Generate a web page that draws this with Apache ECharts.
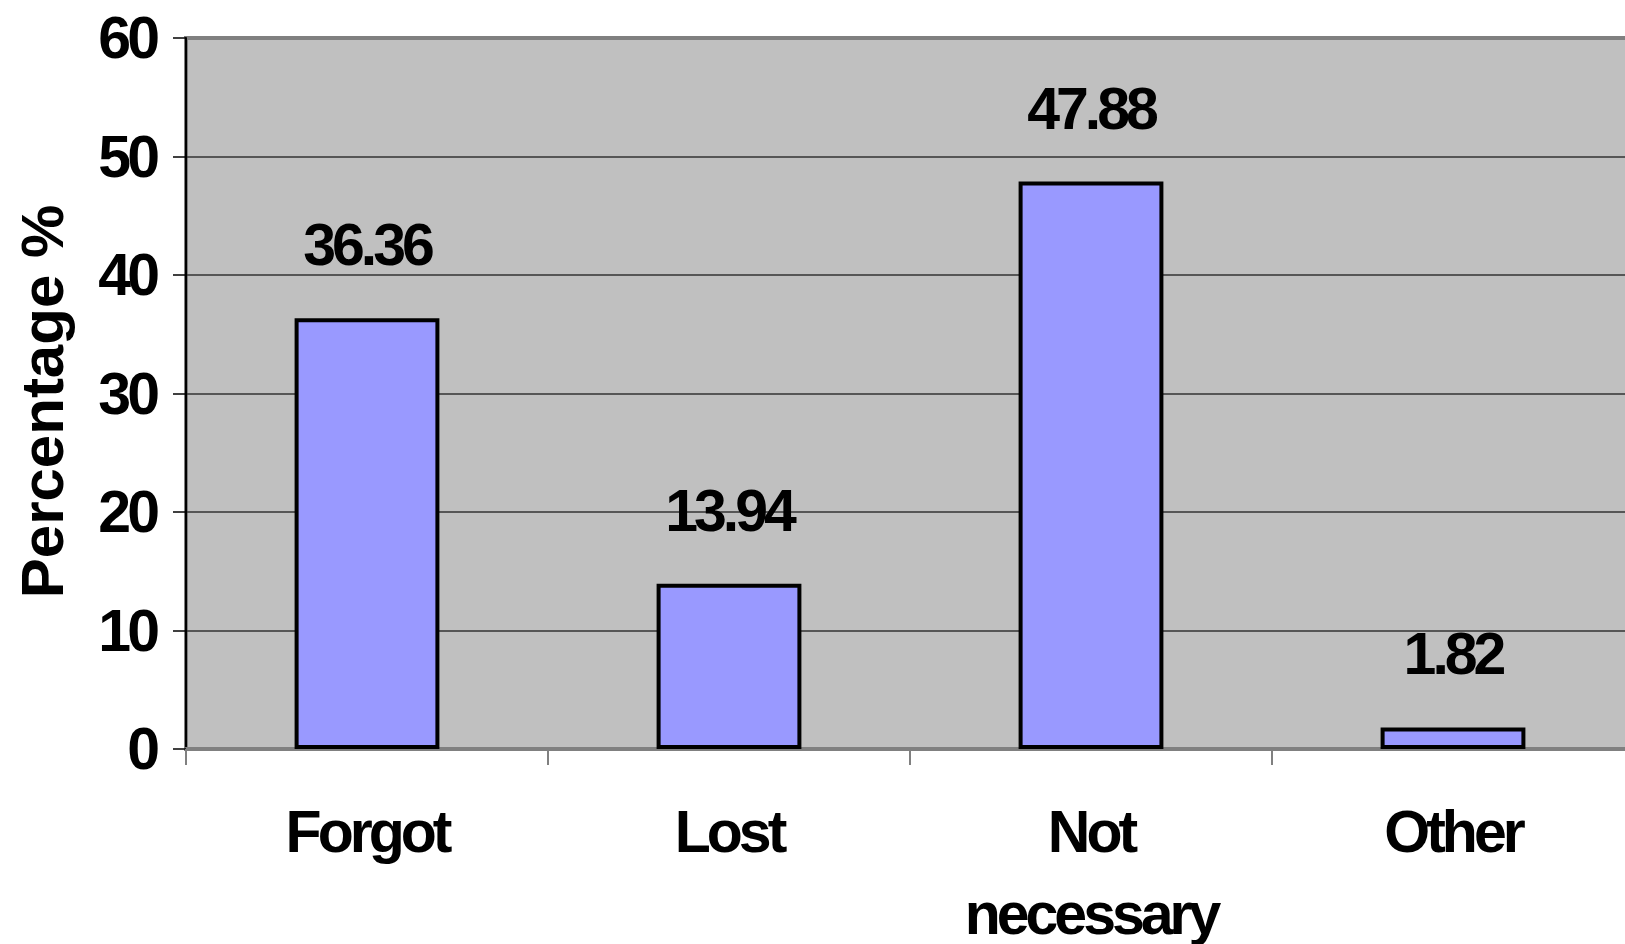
<!DOCTYPE html>
<html>
<head>
<meta charset="utf-8">
<script src="https://cdn.jsdelivr.net/npm/echarts@6/dist/echarts.min.js"></script>
<style>
  html, body { margin: 0; padding: 0; background: #ffffff; }
  #chart { width: 1625px; height: 944px; }
  #chart text { letter-spacing: -4px; }
  #chart text[style*="Liberation"] { letter-spacing: 0px; }
</style>
</head>
<body>
<div id="chart"></div>
<script>
const categories = ['Forgot', 'Lost', 'Not\nnecessary', 'Other'];
const percentages = [36.36, 13.94, 47.88, 1.82];
const yAxisTitle = 'Percentage %';
const yMin = 0, yMax = 60, yStep = 10;

const chart = echarts.init(document.getElementById('chart'), null, { renderer: 'svg' });
const labelFont = { fontFamily: 'Arial', fontWeight: 'bold', fontSize: 59, color: '#000000' };

chart.setOption({
  animation: false,
  backgroundColor: '#ffffff',
  grid: {
    left: 186, top: 38, right: -9, bottom: 195,
    outerBoundsMode: 'none',
    containLabel: false,
    show: true, backgroundColor: '#C0C0C0', borderColor: '#808080', borderWidth: 4
  },
  xAxis: {
    type: 'category',
    data: categories,
    axisLine: { show: true, lineStyle: { color: '#808080', width: 4 } },
    axisTick: { show: true, alignWithLabel: false, length: 16, lineStyle: { color: '#808080', width: 2 } },
    axisLabel: Object.assign({ margin: 42, lineHeight: 82, interval: 0 }, labelFont),
    splitLine: { show: false }
  },
  yAxis: {
    type: 'value',
    min: yMin, max: yMax, interval: yStep,
    name: yAxisTitle,
    nameLocation: 'middle',
    nameRotate: 90,
    nameGap: 114,
    nameTextStyle: { fontFamily: 'Liberation Sans', fontWeight: 'bold', fontSize: 60, color: '#000000', padding: [0, 16, 0, 0] },
    axisLine: { show: true, lineStyle: { color: '#000000', width: 2 } },
    axisTick: { show: true, inside: false, length: 13, lineStyle: { color: '#000000', width: 1.5 } },
    axisLabel: Object.assign({ margin: 30 }, labelFont),
    splitLine: { show: true, showMaxLine: false, showMinLine: false, lineStyle: { color: '#333333', width: 1.5 } }
  },
  series: [{
    type: 'bar',
    data: percentages,
    barWidth: '40%',
    itemStyle: { color: '#9999FF', borderColor: '#000000', borderWidth: 4 },
    label: Object.assign({ show: true, position: 'top', distance: 44, lineHeight: 58 }, labelFont)
  }]
});
</script>
</body>
</html>
